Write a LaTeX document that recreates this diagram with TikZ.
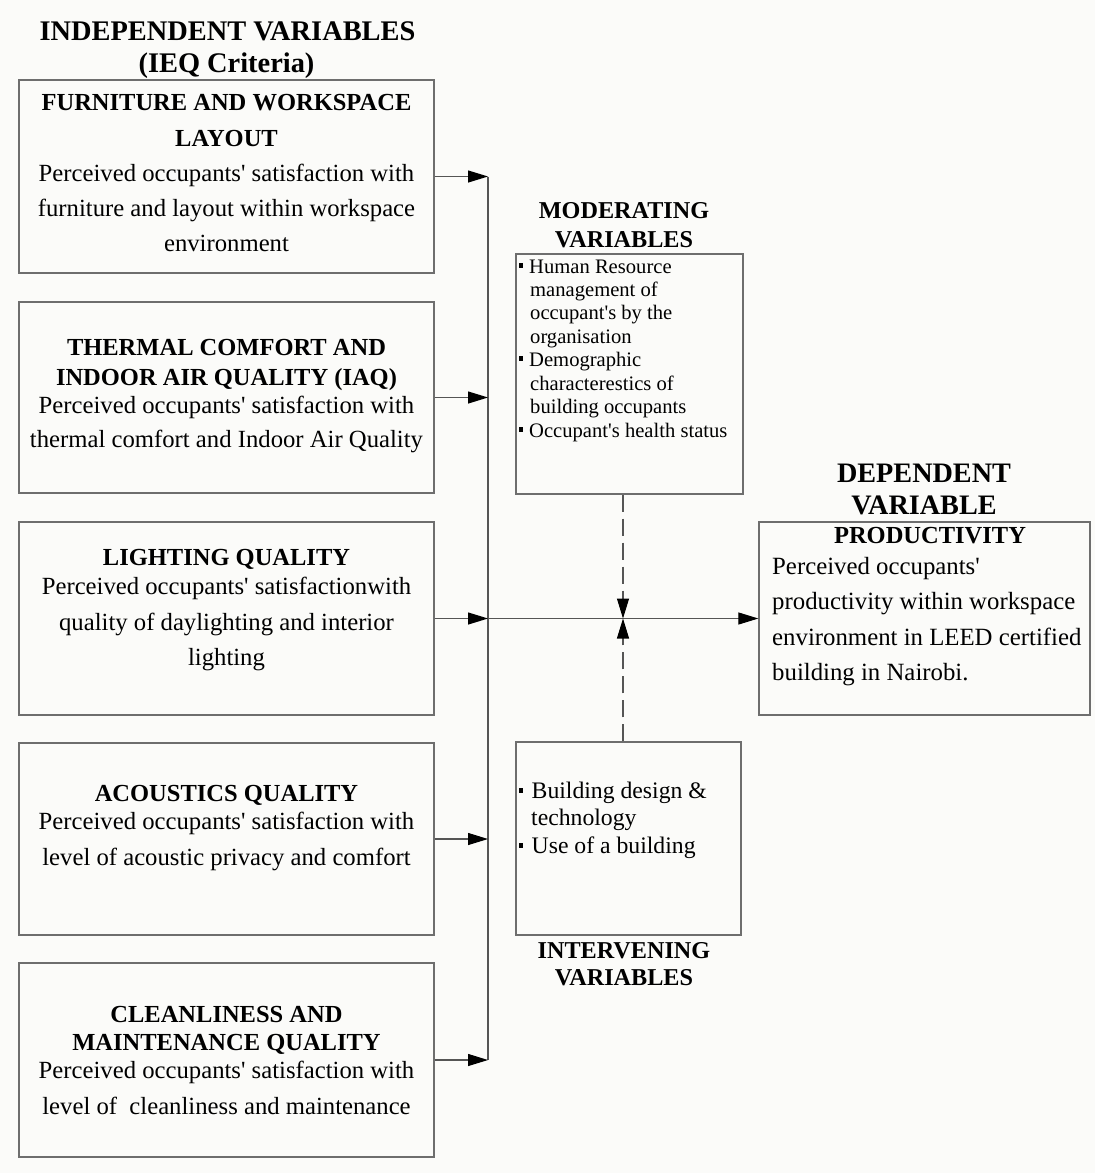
\documentclass[tikz,border=0pt]{standalone}
\usepackage{fontspec}
\setmainfont{Liberation Serif}[Ligatures=TeXOff]
\usetikzlibrary{arrows.meta}
\definecolor{bgc}{RGB}{251,251,249}
\definecolor{boxc}{RGB}{110,110,110}
\definecolor{linec}{RGB}{85,85,85}
\begin{document}
\begin{tikzpicture}[x=1pt,y=-1pt,
  box/.style={draw=boxc, line width=1.3pt, inner sep=0pt, fill=none},
  conn/.style={draw=linec, line width=1.1pt, -{Triangle[length=20pt,width=12pt,color=black]}},
  wire/.style={draw=linec, line width=1.1pt},
  dashconn/.style={draw=linec, line width=1.1pt, dash pattern=on 17pt off 7pt, -{Triangle[length=20pt,width=12pt,color=black]}},
  ttl/.style={inner sep=0pt, anchor=base, font=\fontsize{28.4}{33}\selectfont\bfseries},
  hd/.style={inner sep=0pt, anchor=base, font=\fontsize{24.5}{30}\selectfont\bfseries},
  bd/.style={inner sep=0pt, anchor=base, font=\fontsize{24.7}{30}\selectfont},
  mbd/.style={inner sep=0pt, anchor=base west, font=\fontsize{20.6}{24}\selectfont},
  ibd/.style={inner sep=0pt, anchor=base west, font=\fontsize{23.7}{28}\selectfont},
  dbd/.style={inner sep=0pt, anchor=base west, font=\fontsize{24.8}{30}\selectfont},
  bul/.style={fill=black, inner sep=0pt, minimum width=4pt, minimum height=5pt}
]
% background / bounding box
\fill[bgc] (0,0) rectangle (1095,1173);
\useasboundingbox (0,0) rectangle (1095,1173);

% title
\node[ttl] (t1) at (227.5,40) {INDEPENDENT VARIABLES};
\node[ttl] (t2) at (226.5,72) {(IEQ Criteria)};

% left boxes
\node[box, minimum width=415pt, minimum height=193pt] (b1) at (226.5,176.5) {};
\node[box, minimum width=415pt, minimum height=191pt] (b2) at (226.5,397.5) {};
\node[box, minimum width=415pt, minimum height=193pt] (b3) at (226.5,618.5) {};
\node[box, minimum width=415pt, minimum height=192pt] (b4) at (226.5,839) {};
\node[box, minimum width=415pt, minimum height=194pt] (b5) at (226.5,1060) {};

% box 1 text
\node[hd] (b1h1) at (226.5,110) {FURNITURE AND WORKSPACE};
\node[hd] (b1h2) at (226.5,146) {LAYOUT};
\node[bd] (b1l1) at (226.5,181.5) {Perceived occupants' satisfaction with};
\node[bd] (b1l2) at (226.5,216.5) {furniture and layout within workspace};
\node[bd] (b1l3) at (226.5,251.5) {environment};

% box 2 text
\node[hd] (b2h1) at (226.5,355) {THERMAL COMFORT AND};
\node[hd] (b2h2) at (226.5,385) {INDOOR AIR QUALITY (IAQ)};
\node[bd] (b2l1) at (226.5,413) {Perceived occupants' satisfaction with};
\node[bd] (b2l2) at (226.5,447) {thermal comfort and Indoor Air Quality};

% box 3 text
\node[hd] (b3h1) at (226.5,565) {LIGHTING QUALITY};
\node[bd] (b3l1) at (226.5,594) {Perceived occupants' satisfactionwith};
\node[bd] (b3l2) at (226.5,630) {quality of daylighting and interior};
\node[bd] (b3l3) at (226.5,665) {lighting};

% box 4 text
\node[hd] (b4h1) at (226.5,801) {ACOUSTICS QUALITY};
\node[bd] (b4l1) at (226.5,829) {Perceived occupants' satisfaction with};
\node[bd] (b4l2) at (226.5,865) {level of acoustic privacy and comfort};

% box 5 text
\node[hd] (b5h1) at (226.5,1022) {CLEANLINESS AND};
\node[hd] (b5h2) at (226.5,1050) {MAINTENANCE QUALITY};
\node[bd] (b5l1) at (226.5,1078) {Perceived occupants' satisfaction with};
\node[bd] (b5l2) at (226.5,1114) {level of\ \ cleanliness and maintenance};

% moderating
\node[hd, font=\fontsize{24.2}{30}\selectfont\bfseries] (mh1) at (624,218) {MODERATING};
\node[hd, font=\fontsize{24.2}{30}\selectfont\bfseries] (mh2) at (624,247) {VARIABLES};
\node[box, minimum width=227pt, minimum height=240pt] (mod) at (629.5,374) {};
\node[bul] (mb1) at (520.5,265) {};
\node[mbd] (ml1) at (529,273) {Human Resource};
\node[mbd] (ml2) at (530,296.4) {management of};
\node[mbd] (ml3) at (530,319.8) {occupant's by the};
\node[mbd] (ml4) at (530,343.2) {organisation};
\node[bul] (mb2) at (520.5,358.6) {};
\node[mbd] (ml5) at (529,366.6) {Demographic};
\node[mbd] (ml6) at (530,390) {characterestics of};
\node[mbd] (ml7) at (530,413.4) {building occupants};
\node[bul] (mb3) at (520.5,429) {};
\node[mbd] (ml8) at (529,437) {Occupant's health status};

% intervening
\node[box, minimum width=225pt, minimum height=193pt] (int) at (628.5,838.5) {};
\node[bul] (ib1) at (520.5,790.5) {};
\node[ibd] (il1) at (531.5,798) {Building design \&};
\node[ibd] (il2) at (531,825.5) {technology};
\node[bul] (ib2) at (520.5,845.5) {};
\node[ibd] (il3) at (531.5,853) {Use of a building};
\node[hd, font=\fontsize{24.2}{30}\selectfont\bfseries] (ih1) at (624,958) {INTERVENING};
\node[hd, font=\fontsize{24.2}{30}\selectfont\bfseries] (ih2) at (624,985) {VARIABLES};

% dependent
\node[ttl, font=\fontsize{28.2}{33}\selectfont\bfseries] (dh1) at (924,482) {DEPENDENT};
\node[ttl, font=\fontsize{28.2}{33}\selectfont\bfseries] (dh2) at (924,514) {VARIABLE};
\node[box, minimum width=331pt, minimum height=193pt] (dep) at (924.5,618.5) {};
\node[hd] (dh3) at (930,543) {PRODUCTIVITY};
\node[dbd] (dl1) at (772,574) {Perceived occupants'};
\node[dbd] (dl2) at (772,609) {productivity within workspace};
\node[dbd] (dl3) at (772,645) {environment in LEED certified};
\node[dbd] (dl4) at (772,680) {building in Nairobi.};

% connectors
\coordinate (bus1) at (488,176.5);
\coordinate (bus2) at (488,397.5);
\coordinate (bus3) at (488,618.5);
\coordinate (bus4) at (488,839);
\coordinate (bus5) at (488,1060);
\coordinate (meet) at (623,618.5);

\draw[wire] (bus1) -- (bus5);
\draw[conn] (b1.east) -- (bus1);
\draw[conn] (b2.east) -- (bus2);
\draw[conn] (b3.east) -- (bus3);
\draw[conn] (b4.east) -- (bus4);
\draw[conn] (b5.east) -- (bus5);
\draw[conn] (bus3) -- (dep.west);
\draw[dashconn] (mod.south -| meet) -- (meet);
\draw[dashconn] (int.north -| meet) -- (meet);
\end{tikzpicture}
\end{document}
